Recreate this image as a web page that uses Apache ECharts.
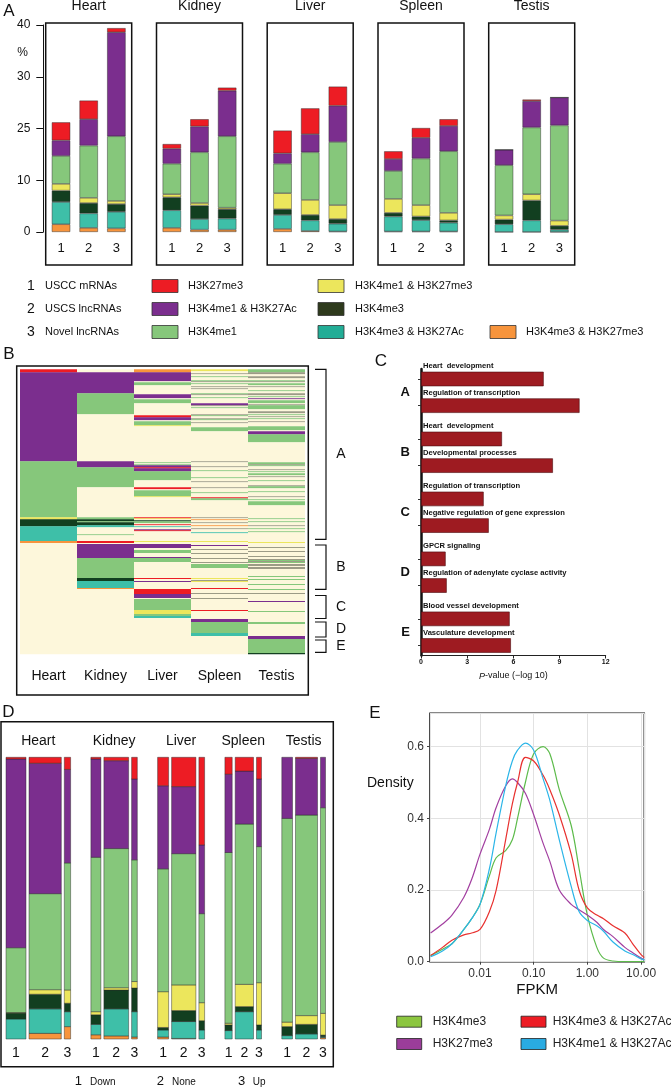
<!DOCTYPE html>
<html><head><meta charset="utf-8">
<script src="https://cdn.jsdelivr.net/npm/echarts@6/dist/echarts.min.js"></script>
<style>html,body{margin:0;padding:0;background:#fff}#c{width:671px;height:1088px}</style>
</head><body><div id="c"></div>
<script>
const FONT = '"Liberation Sans", Arial, Helvetica, sans-serif';
const tissues = ['Heart','Kidney','Liver','Spleen','Testis'];
const markNames = ['H3K4me3 & H3K27me3','H3K4me3 & H3K27Ac','H3K4me3','H3K4me1 & H3K27me3','H3K4me1','H3K4me1 & H3K27Ac','H3K27me3'];
const markColors = ['#F7943C','#3EBFA8','#123F20','#ECE65C','#86C77B','#7B2E8E','#ED1C24'];

// ---------- Panel A (bar order: Heart1..3, Kidney1..3, Liver1..3, Spleen1..3, Testis1..3)
const aCategories = ['1','2','3'];
const aTickLabels = ['0','10','25','30','40'];
const aOrange = [1.5, 0.8, 0.7, 0.8, 0.45, 0.45, 0.6, 0.2, 0.1, 0.1, 0.1, 0.1, 0, 0, 0];
const aTeal   = [4.3, 2.8, 3.2, 3.4, 2.05, 2.15, 2.7, 2.05, 1.5, 2.9, 2.2, 1.7, 1.5, 2.25, 0.45];
const aDark   = [2.2, 2.0, 1.5, 2.5, 2.6, 1.8, 1.1, 1.05, 0.9, 0.7, 0.7, 0.45, 0.9, 3.85, 0.75];
const aYellow = [1.3, 1.0, 0.6, 0.6, 0.5, 0.3, 3.1, 2.9, 2.7, 2.7, 2.2, 1.45, 0.8, 1.2, 1.0];
const aGreen  = [5.4, 10.1, 12.5, 5.9, 9.8, 13.8, 5.7, 9.2, 12.2, 5.4, 9.0, 11.9, 9.7, 12.9, 18.4];
const aPurple = [3.0, 5.1, 20.1, 2.9, 5.0, 8.8, 2.0, 3.5, 7.0, 2.3, 4.0, 4.9, 3.0, 5.1, 5.4];
const aRed    = [3.5, 3.6, 0.8, 0.9, 1.4, 0.6, 4.4, 5.0, 3.7, 1.5, 1.9, 1.3, 0, 0.3, 0];
const aMarks = [aOrange, aTeal, aDark, aYellow, aGreen, aPurple, aRed];
const aGroupNames = ['USCC mRNAs','USCS lncRNAs','Novel lncRNAs'];

// ---------- Panel B heatmap runs [code, rows]; 0 none,1 red,2 purple,3 green,4 yellow,5 dark green,6 teal,7 orange,8 mixed
const hmHeart = [[1,3],[2,89],[3,56],[4,2],[5,7],[6,15],[7,2],[0,111]];
const hmKidney = [[0,3],[2,21],[3,21],[0,47],[2,6],[3,20],[0,30],[3,2],[5,2],[3,1],[5,3],[6,2],[0,7],[3,1],[0,6],[1,2],[0,1],[2,14],[3,20],[5,3],[6,7],[7,1],[0,65]];
const hmLiver = [[7,3],[2,9],[0,1],[3,3],[0,9],[2,4],[0,1],[3,4],[0,12],[1,2],[2,3],[0,1],[3,4],[4,1],[0,36],
 [3,1],[0,1],[3,1],[2,2],[1,1],[2,3],[3,9],[0,7],[1,2],[0,1],[3,6],[4,1],[0,20],
 [1,1],[4,1],[0,1],[5,1],[3,2],[0,1],[1,1],[0,1],[6,1],[0,2],[2,1],[1,1],[0,10],[4,1],[0,2],[2,4],[0,2],[3,3],[0,4],[2,1],
 [3,4],[0,16],[1,1],[0,2],[2,1],[0,7],[1,5],[2,4],[0,1],[3,11],[4,4],[3,2],[6,2],[0,36]];
const hmSpleen = [[4,2],[0,2],[8,1],[0,2],[3,1],[0,3],[3,1],[8,1],[0,1],[3,1],[0,2],[8,1],[0,1],[8,1],[0,4],[3,1],[8,1],[0,2],[3,1],[0,5],[2,2],[8,1],[0,1],[3,1],[0,6],[8,1],[3,1],[0,2],[8,1],[3,1],[0,2],[8,1],[0,4],[3,4],[0,30],[8,1],
 [0,4],[8,1],[0,3],[3,1],[0,6],[3,1],[0,3],[8,1],[0,5],[8,1],[0,4],[3,1],[0,4],[1,1],[3,2],[0,17],[8,1],[0,1],[7,1],[0,2],[8,1],[0,2],[7,1],[0,2],[8,1],[0,3],[6,1],[0,8],[4,1],[0,3],[2,1],[0,3],[8,1],[0,3],[8,1],[0,4],[8,1],
 [0,3],[8,1],[0,1],[3,4],[0,10],[4,1],[0,1],[8,1],[4,1],[0,6],[1,1],[0,4],[8,1],[0,4],[8,1],[0,11],[1,1],[0,8],[2,3],[3,11],[6,3],[0,18]];
const hmTestis = [[3,3],[8,2],[0,2],[8,2],[0,2],[3,1],[8,1],[0,1],[3,2],[0,1],[8,1],[0,3],[3,1],[0,2],[8,2],[0,1],[3,1],[0,1],[2,1],[0,1],[3,3],[0,1],[8,1],[3,4],[0,2],[8,2],[0,1],[3,1],[0,1],[8,1],[0,1],[3,1],[0,2],[8,1],[0,4],[3,4],[0,1],[2,3],[3,8],[0,20],
 [3,2],[8,1],[3,1],[0,3],[8,1],[0,1],[3,1],[0,1],[3,2],[0,1],[8,1],[0,3],[3,1],[0,4],[8,1],[3,2],[0,3],[3,1],[0,4],[8,1],[0,2],[3,1],[0,1],[3,4],[0,13],[3,1],[0,2],[3,1],[0,3],[8,1],[0,2],[3,1],[0,2],[3,1],[0,10],[4,1],[0,4],[8,1],[0,3],[8,1],[0,4],[8,1],[0,2],[8,1],[3,1],
 [8,1],[3,1],[0,1],[8,2],[0,1],[8,2],[0,7],[3,1],[0,2],[3,1],[0,4],[3,1],[0,4],[3,1],[0,3],[8,1],[0,7],[2,1],[0,9],[3,1],[0,10],[3,2],[0,12],[2,3],[3,14],[5,1]];
const hmColumns = [hmHeart, hmKidney, hmLiver, hmSpleen, hmTestis];
const hmColors = ['#FDF7DB','#ED1C24','#7B2E8E','#86C77B','#ECE65C','#123F20','#3EBFA8','#F7943C','#9C9B86'];
const hmRows = 285;
const hmClusters = ['A','B','C','D','E'];

// ---------- Panel C
const goGroups = ['A','B','C','D','E'];
const goTerms = ['Heart  development','Regulation of transcription','Heart  development','Developmental processes','Regulation of transcription','Negative regulation of gene expression','GPCR signaling','Regulation of adenylate cyclase activity','Blood vessel development','Vasculature development'];
const goValues = [7.97, 10.3, 5.26, 8.57, 4.07, 4.4, 1.6, 1.67, 5.76, 5.84];
const goTicks = [0, 3, 6, 9, 12];

// ---------- Panel D (percent per bar, same bar order as A)
const dCategories = ['1','2','3'];
const dWidths = [20, 32.3, 6.3, 10, 24.7, 5.7, 11, 24.3, 5.7, 7.3, 18.3, 5, 10.7, 22, 5];
const dOrange = [0, 2.0, 4.4, 1.5, 1.1, 0.7, 0.7, 0.2, 0, 0, 0, 0, 0, 0, 0.5];
const dTeal   = [7.1, 8.7, 5.3, 3.7, 9.6, 9.0, 2.5, 6.0, 3.2, 3.0, 9.7, 3.2, 1.2, 1.8, 0.3];
const dDark   = [2.1, 5.2, 3.0, 3.4, 6.7, 8.4, 0.9, 3.9, 3.3, 2.0, 1.8, 1.8, 3.2, 3.4, 0.6];
const dYellow = [0.2, 1.6, 4.7, 1.1, 0.8, 2.3, 12.7, 9.1, 6.4, 0.6, 7.9, 15.0, 1.6, 3.1, 7.7];
const dGreen  = [23.0, 34.1, 45.1, 54.8, 49.4, 43.2, 43.6, 46.6, 31.6, 60.6, 56.9, 48.3, 72.3, 71.2, 73.0];
const dPurple = [67.0, 46.3, 33.2, 34.9, 31.2, 28.7, 29.5, 23.8, 24.4, 27.8, 18.8, 24.0, 21.7, 20.1, 17.9];
const dRed    = [0.6, 2.1, 4.3, 0.6, 1.2, 7.7, 10.1, 10.4, 31.1, 6.0, 4.9, 7.7, 0, 0.4, 0];
const dMarks = [dOrange, dTeal, dDark, dYellow, dGreen, dPurple, dRed];
const dKey = [['1','Down'],['2','None'],['3','Up']];

// ---------- Panel E densities
const eFpkm = [0.0012, 0.002, 0.003, 0.005, 0.007, 0.01, 0.015, 0.02, 0.03, 0.04, 0.05, 0.07, 0.1, 0.15, 0.2, 0.3, 0.5, 0.7, 1, 1.5, 2, 3, 5, 7, 10, 11.5];
const eH3K4me3 = [0.017, 0.035, 0.05, 0.09, 0.12, 0.16, 0.24, 0.29, 0.31, 0.34, 0.40, 0.50, 0.58, 0.60, 0.58, 0.48, 0.38, 0.26, 0.13, 0.04, 0.01, 0.002, 0, 0, 0, 0];
const eH3K27me3 = [0.08, 0.105, 0.13, 0.18, 0.23, 0.30, 0.37, 0.43, 0.49, 0.51, 0.50, 0.47, 0.41, 0.33, 0.28, 0.20, 0.16, 0.145, 0.13, 0.11, 0.09, 0.07, 0.04, 0.025, 0.01, 0.005];
const eH3K4me3Ac = [0.017, 0.04, 0.06, 0.075, 0.08, 0.09, 0.14, 0.20, 0.34, 0.44, 0.50, 0.57, 0.56, 0.52, 0.48, 0.41, 0.30, 0.20, 0.15, 0.13, 0.12, 0.10, 0.08, 0.05, 0.02, 0.012];
const eH3K4me1Ac = [0.014, 0.03, 0.05, 0.09, 0.12, 0.16, 0.26, 0.36, 0.49, 0.56, 0.59, 0.61, 0.59, 0.51, 0.45, 0.34, 0.21, 0.14, 0.115, 0.10, 0.085, 0.055, 0.03, 0.02, 0.008, 0.005];
const eSeries = [
  {name:'H3K4me3', data:eH3K4me3, line:'#5DBB4B', key:'#8CC63F'},
  {name:'H3K27me3', data:eH3K27me3, line:'#A23FA0', key:'#9B3D9A'},
  {name:'H3K4me3 & H3K27Ac', data:eH3K4me3Ac, line:'#E8312F', key:'#ED1C24'},
  {name:'H3K4me1 & H3K27Ac', data:eH3K4me1Ac, line:'#2BB5E8', key:'#29ABE2'}
];
const eTicks = [0, 0.2, 0.4, 0.6];

// ================= build option =================
const grid = [], xAxis = [], yAxis = [], series = [], gfx = [];
function T(text, x, y, size, o) {
  o = o || {};
  gfx.push({type:'text', silent:true, z:50, style:{text:text, x:x, y:y, fill:o.fill||'#111', font:(o.style||'normal')+' '+(o.weight||'normal')+' '+size+'px '+FONT, align:o.align||'center', verticalAlign:o.va||'middle'}});
}
function R(x, y, w, h, fill, stroke, lw) {
  gfx.push({type:'rect', silent:true, z:40, shape:{x:x, y:y, width:w, height:h}, style:{fill:fill||'none', stroke:stroke||null, lineWidth:lw||1}});
}

// ---- Panel A
const aBoxLeft = [45.7, 156.5, 267.2, 378.0, 488.7];
tissues.forEach((tName, t) => {
  grid.push({left:aBoxLeft[t]+1.5, top:25, width:83, height:207});
  xAxis.push({gridIndex:t, type:'category', data:aCategories, axisLine:{show:false}, axisTick:{show:false},
    axisLabel:{fontSize:13, color:'#111', margin:10, fontFamily:FONT}});
  yAxis.push({gridIndex:t, type:'value', min:0, max:40, interval:10, show:t===0, offset:3.9,
    axisLine:{show:true, lineStyle:{color:'#111', width:1}}, axisTick:{show:true, length:7, lineStyle:{color:'#111'}},
    splitLine:{show:false},
    axisLabel:{fontSize:12, color:'#111', margin:13, fontFamily:FONT, formatter:v => aTickLabels[Math.round(v/10)]}});
  aMarks.forEach((arr, m) => {
    series.push({type:'bar', name:markNames[m], xAxisIndex:t, yAxisIndex:t, stack:'a'+t, barWidth:18.5,
      data:arr.slice(3*t, 3*t+3), itemStyle:{color:markColors[m], borderColor:'rgba(40,40,40,0.75)', borderWidth:0.6}});
  });
  R(aBoxLeft[t], 23, 86, 242, null, '#111', 1.5);
  T(tName, aBoxLeft[t]+43, 6, 14);
});
T('A', 9, 11, 17);
T('%', 22.5, 52.5, 12);
// Legend A
const legRows = [286, 309, 332];
aGroupNames.forEach((g, i) => { T(String(i+1), 31, legRows[i], 14); T(g, 45, legRows[i], 11, {align:'left'}); });
const legA = [
  [0, 152, 188, '#ED1C24', 'H3K27me3'], [0, 318, 355, '#ECE65C', 'H3K4me1 & H3K27me3'],
  [1, 152, 188, '#7B2E8E', 'H3K4me1 & H3K27Ac'], [1, 318, 355, '#2E3A1C', 'H3K4me3'],
  [2, 152, 188, '#86C77B', 'H3K4me1'], [2, 318, 355, '#22AD96', 'H3K4me3 & H3K27Ac'], [2, 490, 526, '#F7943C', 'H3K4me3 & H3K27me3']
];
legA.forEach(l => { R(l[1], legRows[l[0]]-6.5, 26, 13, l[3], '#333', 0.8); T(l[4], l[2], legRows[l[0]], 11, {align:'left'}); });

// ---- Panel B heatmap
const gB = grid.length;
grid.push({left:20, top:369.3, width:285, height:284.7});
xAxis.push({gridIndex:gB, type:'category', data:tissues, axisLine:{show:false}, axisTick:{show:false},
  axisLabel:{fontSize:14, color:'#111', margin:15, fontFamily:FONT}});
yAxis.push({gridIndex:gB, type:'value', min:0, max:hmRows, inverse:true, show:false});
const hmData = [];
hmColumns.forEach((runs, c) => { let s = 0; runs.forEach(r => { hmData.push([c, s, s + r[1], r[0]]); s += r[1]; }); });
series.push({type:'custom', xAxisIndex:gB, yAxisIndex:gB, data:hmData, encode:{x:0, y:[1,2]},
  renderItem:(params, api) => {
    const c = api.value(0), s = api.value(1), e = api.value(2), code = api.value(3);
    const p0 = api.coord([c, s]), p1 = api.coord([c, e]);
    const w = api.size([1, 0])[0];
    return {type:'rect', shape:{x:p0[0]-w/2, y:p0[1], width:w, height:Math.max(p1[1]-p0[1], 0.8)+0.25},
      style:{fill:hmColors[code]}};
  }});
R(16.7, 366, 291.6, 329, null, '#111', 1.5);
T('B', 9, 354, 17);
const brk = [[369.3, 539.3], [545, 589.3], [595.5, 618.5], [622, 637], [640, 652.3]];
brk.forEach((b, i) => {
  gfx.push({type:'polyline', silent:true, z:40, shape:{points:[[315,b[0]],[326,b[0]],[326,b[1]],[315,b[1]]]}, style:{stroke:'#111', lineWidth:1.2, fill:null}});
  T(hmClusters[i], 341, (b[0]+b[1])/2, 14);
});

// ---- Panel C
const gC = grid.length;
grid.push({left:421, top:369, width:184.7, height:286.5});
const cSlots = 43;
const cCats = [], cData = [], cSlotTerm = {}, cLetter = {};
for (let i = 0; i < cSlots; i++) { cCats.push('s' + i); cData.push('-'); }
goGroups.forEach((g, gi) => {
  cLetter[1 + 9*gi + 2] = g;
  for (let k = 0; k < 2; k++) { const slot = 1 + 9*gi + 4*k; cData[slot] = goValues[2*gi+k]; cSlotTerm[slot] = goTerms[2*gi+k]; }
});
xAxis.push({gridIndex:gC, type:'value', min:0, max:12, interval:3,
  axisLine:{show:true, lineStyle:{color:'#222', width:1}}, axisTick:{show:true, length:3, lineStyle:{color:'#222'}},
  splitLine:{show:false},
  axisLabel:{fontSize:7, fontWeight:'bold', color:'#111', margin:3, fontFamily:FONT, formatter:v => String(goTicks[Math.round(v/3)])},
  name:'{i|P}-value (\u2212log 10)', nameLocation:'middle', nameGap:16,
  nameTextStyle:{fontSize:9, color:'#111', fontFamily:FONT, rich:{i:{fontStyle:'italic', fontSize:9, fontFamily:FONT}}}});
yAxis.push({gridIndex:gC, type:'category', data:cCats, inverse:true,
  axisLine:{show:true, lineStyle:{color:'#111', width:2.5}},
  axisTick:{show:true, alignWithLabel:true, length:3, interval:(i) => cSlotTerm[i] !== undefined, lineStyle:{color:'#333'}},
  axisLabel:{interval:0, fontSize:13, fontWeight:'bold', color:'#111', margin:11, fontFamily:FONT, formatter:(v, i) => cLetter[i] || ''}});
series.push({type:'bar', xAxisIndex:gC, yAxisIndex:gC, data:cData, barWidth:14.5,
  itemStyle:{color:'#9E1B21', borderColor:'#4d0c0f', borderWidth:0.6},
  label:{show:true, position:[2, -1.5], align:'left', verticalAlign:'bottom', fontSize:7.6, fontWeight:'bold', color:'#111', fontFamily:FONT,
    formatter:p => cSlotTerm[p.dataIndex] || ''}});
T('C', 381, 361, 17);

// ---- Panel D
const gD = grid.length;
grid.push({left:1, top:757.3, width:332, height:281.7});
xAxis.push({gridIndex:gD, type:'value', min:0, max:332, show:false});
yAxis.push({gridIndex:gD, type:'value', min:0, max:100, show:false});
const dRects = [], dBarCenters = [], dGroupCenters = [];
{
  let x = 5;
  tissues.forEach((tn, t) => {
    const gStart = x;
    for (let b = 0; b < 3; b++) {
      const i = 3*t + b, w = dWidths[i];
      let y = 0;
      dMarks.forEach((arr, m) => { const v = arr[i]; if (v > 0) dRects.push([x, x + w, y, y + v, m]); y += v; });
      dBarCenters.push([x + w/2, 0]);
      x += w;
      if (b < 2) x += 3;
    }
    dGroupCenters.push([(gStart + x)/2, 100]);
    x += 20.3;
  });
}
series.push({type:'custom', xAxisIndex:gD, yAxisIndex:gD, data:dRects, encode:{x:[0,1], y:[2,3]},
  renderItem:(params, api) => {
    const p0 = api.coord([api.value(0), api.value(2)]), p1 = api.coord([api.value(1), api.value(3)]);
    return {type:'rect', shape:{x:p0[0], y:p1[1], width:p1[0]-p0[0], height:p0[1]-p1[1]},
      style:{fill:markColors[api.value(4)], stroke:'rgba(40,40,40,0.75)', lineWidth:0.6}};
  }});
series.push({type:'custom', xAxisIndex:gD, yAxisIndex:gD, data:dBarCenters, silent:true,
  renderItem:(params, api) => {
    const p = api.coord([api.value(0), 0]);
    return {type:'text', style:{text:dCategories[params.dataIndex % 3], x:p[0], y:p[1]+14, align:'center', verticalAlign:'middle', font:'14px '+FONT, fill:'#111'}};
  }});
series.push({type:'custom', xAxisIndex:gD, yAxisIndex:gD, data:dGroupCenters, silent:true,
  renderItem:(params, api) => {
    const p = api.coord([api.value(0), 100]);
    return {type:'text', style:{text:tissues[params.dataIndex], x:p[0], y:p[1]-16.6, align:'center', verticalAlign:'middle', font:'14px '+FONT, fill:'#111'}};
  }});
R(1, 721.7, 332.3, 345, null, '#111', 1.5);
T('D', 8.5, 712.5, 17);
const dKeyX = [[74.7, 90], [156.7, 172], [238, 252.7]];
dKey.forEach((k, i) => { T(k[0], dKeyX[i][0], 1081, 13, {align:'left'}); T(k[1], dKeyX[i][1], 1082, 10, {align:'left'}); });

// ---- Panel E
const gE = grid.length;
grid.push({left:430, top:713.3, width:214.3, height:248.4, show:true, borderColor:'#111', borderWidth:1.5});
xAxis.push({gridIndex:gE, type:'log', logBase:10, min:0.00117, max:11.5,
  axisLine:{show:false}, axisTick:{show:true, length:3, lineStyle:{color:'#444'}},
  splitLine:{show:true, lineStyle:{color:'#e2e2e2', width:1}},
  axisLabel:{fontSize:12, color:'#333', margin:6, fontFamily:FONT, showMinLabel:false, showMaxLabel:false, formatter:v => Number(v).toFixed(2)},
  name:'FPKM', nameLocation:'middle', nameGap:21, nameTextStyle:{fontSize:15, color:'#111', fontFamily:FONT}});
yAxis.push({gridIndex:gE, type:'value', min:0, max:0.693, interval:0.2,
  axisLine:{show:false}, axisTick:{show:true, length:3, lineStyle:{color:'#444'}},
  splitLine:{show:true, lineStyle:{color:'#e2e2e2', width:1}},
  axisLabel:{fontSize:12, color:'#333', margin:6, fontFamily:FONT, showMaxLabel:false, formatter:v => Number(v).toFixed(1)}});
eSeries.forEach(s => {
  series.push({type:'line', name:s.name, xAxisIndex:gE, yAxisIndex:gE, smooth:0.35, showSymbol:false, symbol:'none',
    data:eFpkm.map((x, i) => [x, s.data[i]]), lineStyle:{color:s.line, width:1.2}, itemStyle:{color:s.line}});
});
T('E', 375, 713, 17);
T('Density', 367, 783.3, 14, {align:'left'});
const legE = [[396.7, 432.7, 1021.7], [396.7, 432.7, 1044], [521, 552.7, 1021.7], [521, 552.7, 1044]];
eSeries.forEach((s, i) => { const l = legE[i]; R(l[0], l[2]-5.5, 25, 11, s.key, '#222', 0.8); T(s.name, l[1], l[2], 12, {align:'left', fill:'#222'}); });

const chart = echarts.init(document.getElementById('c'), null, {renderer:'canvas', width:671, height:1088});
chart.setOption({animation:false, backgroundColor:'#fff', textStyle:{fontFamily:FONT},
  grid:grid, xAxis:xAxis, yAxis:yAxis, series:series, graphic:{elements:gfx}});
</script></body></html>
